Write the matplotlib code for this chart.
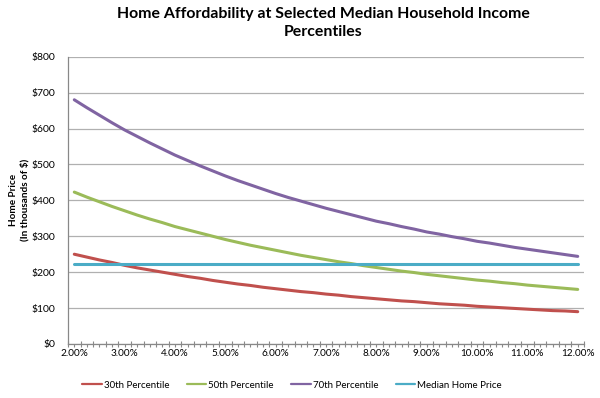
import matplotlib.pyplot as plt
import numpy as np
from matplotlib.ticker import FixedLocator

# mortgage rates (category axis, 0.25% steps)
rates = [2.00, 2.25, 2.50, 2.75, 3.00, 3.25, 3.50, 3.75, 4.00, 4.25, 4.50, 4.75,
         5.00, 5.25, 5.50, 5.75, 6.00, 6.25, 6.50, 6.75, 7.00, 7.25, 7.50, 7.75,
         8.00, 8.25, 8.50, 8.75, 9.00, 9.25, 9.50, 9.75, 10.00, 10.25, 10.50, 10.75,
         11.00, 11.25, 11.50, 11.75, 12.00]

# affordable home price, thousands of $
pct30 = [250, 242, 234, 227, 219, 212, 206, 200, 194, 188, 183, 177, 172, 167, 163, 158,
         154, 150, 146, 143, 139, 136, 132, 129, 126, 123, 120, 118, 115, 112, 110, 108,
         105, 103, 101, 99, 97, 95, 93, 92, 90]
pct50 = [423, 409, 396, 383, 371, 359, 348, 338, 327, 318, 309, 300, 291, 283, 275, 268,
         261, 254, 247, 241, 235, 229, 224, 218, 213, 208, 203, 199, 194, 190, 186, 182,
         178, 175, 171, 168, 164, 161, 158, 155, 152]
pct70 = [680, 658, 637, 616, 596, 578, 560, 543, 526, 511, 496, 482, 468, 455, 443, 431,
         419, 408, 398, 388, 378, 369, 360, 351, 342, 335, 327, 320, 312, 306, 299, 293,
         286, 281, 275, 269, 264, 259, 254, 249, 244]
median_price = [222] * len(rates)

series = [("30th Percentile", pct30, "#C0504D"),
          ("50th Percentile", pct50, "#9BBB59"),
          ("70th Percentile", pct70, "#8064A2"),
          ("Median Home Price", median_price, "#4BACC6")]

plt.rcParams['font.family'] = ['Lato', 'DejaVu Sans']

fig = plt.figure(figsize=(6, 3.98), dpi=100)
ax = fig.add_axes([68/600, 1-344/398, (584-68)/600, (344-56.7)/398])

x = np.arange(len(rates))
for name, vals, col in series:
    ax.plot(x, vals, color=col, lw=2.2, label=name, solid_capstyle='round')

ax.set_xlim(-0.5, len(rates)-0.5)
ax.set_ylim(0, 800)
ax.set_yticks(range(0, 801, 100))
ax.set_yticklabels(["$%d" % v for v in range(0, 801, 100)], fontsize=7.5)
ax.yaxis.grid(True, color="#b0b0b0", lw=0.9)
ax.set_axisbelow(True)
ax.tick_params(axis='y', length=0, pad=9)

# category boundaries as major ticks, centres as minor ticks, labels every 1%
ax.xaxis.set_major_locator(FixedLocator(np.arange(-0.5, len(rates), 1)))
ax.xaxis.set_minor_locator(FixedLocator(x))
ax.set_xticklabels([])
ax.tick_params(axis='x', which='major', direction='inout', length=5, color="#888888", width=0.8)
ax.tick_params(axis='x', which='minor', direction='out', length=2.5, color="#888888", width=0.8)
for i in range(0, len(rates), 4):
    ax.text(i, -15, "%.2f%%" % rates[i], ha='center', va='top', fontsize=7.2,
            transform=ax.transData)

for s in ["top", "right"]:
    ax.spines[s].set_visible(False)
for s in ["left", "bottom"]:
    ax.spines[s].set_color("#888888")
    ax.spines[s].set_linewidth(0.9)

fig.text(19/600, 1-200/398, "Home Price\n(In thousands of $)", rotation=90,
         ha='center', va='center', fontsize=7.2, fontweight='bold', linespacing=1.3)
fig.text(323/600, 1-23/398, "Home Affordability at Selected Median Household Income\nPercentiles",
         ha='center', va='center', fontsize=11.4, fontweight='bold', linespacing=1.45)

leg = fig.legend(loc='center', bbox_to_anchor=(292/600, 1-385/398), ncol=4, frameon=False,
                 fontsize=7, handlelength=2.0, columnspacing=1.8, handletextpad=0.2)
for line in leg.get_lines():
    line.set_linewidth(1.6)

fig.savefig("out.png", dpi=100)
